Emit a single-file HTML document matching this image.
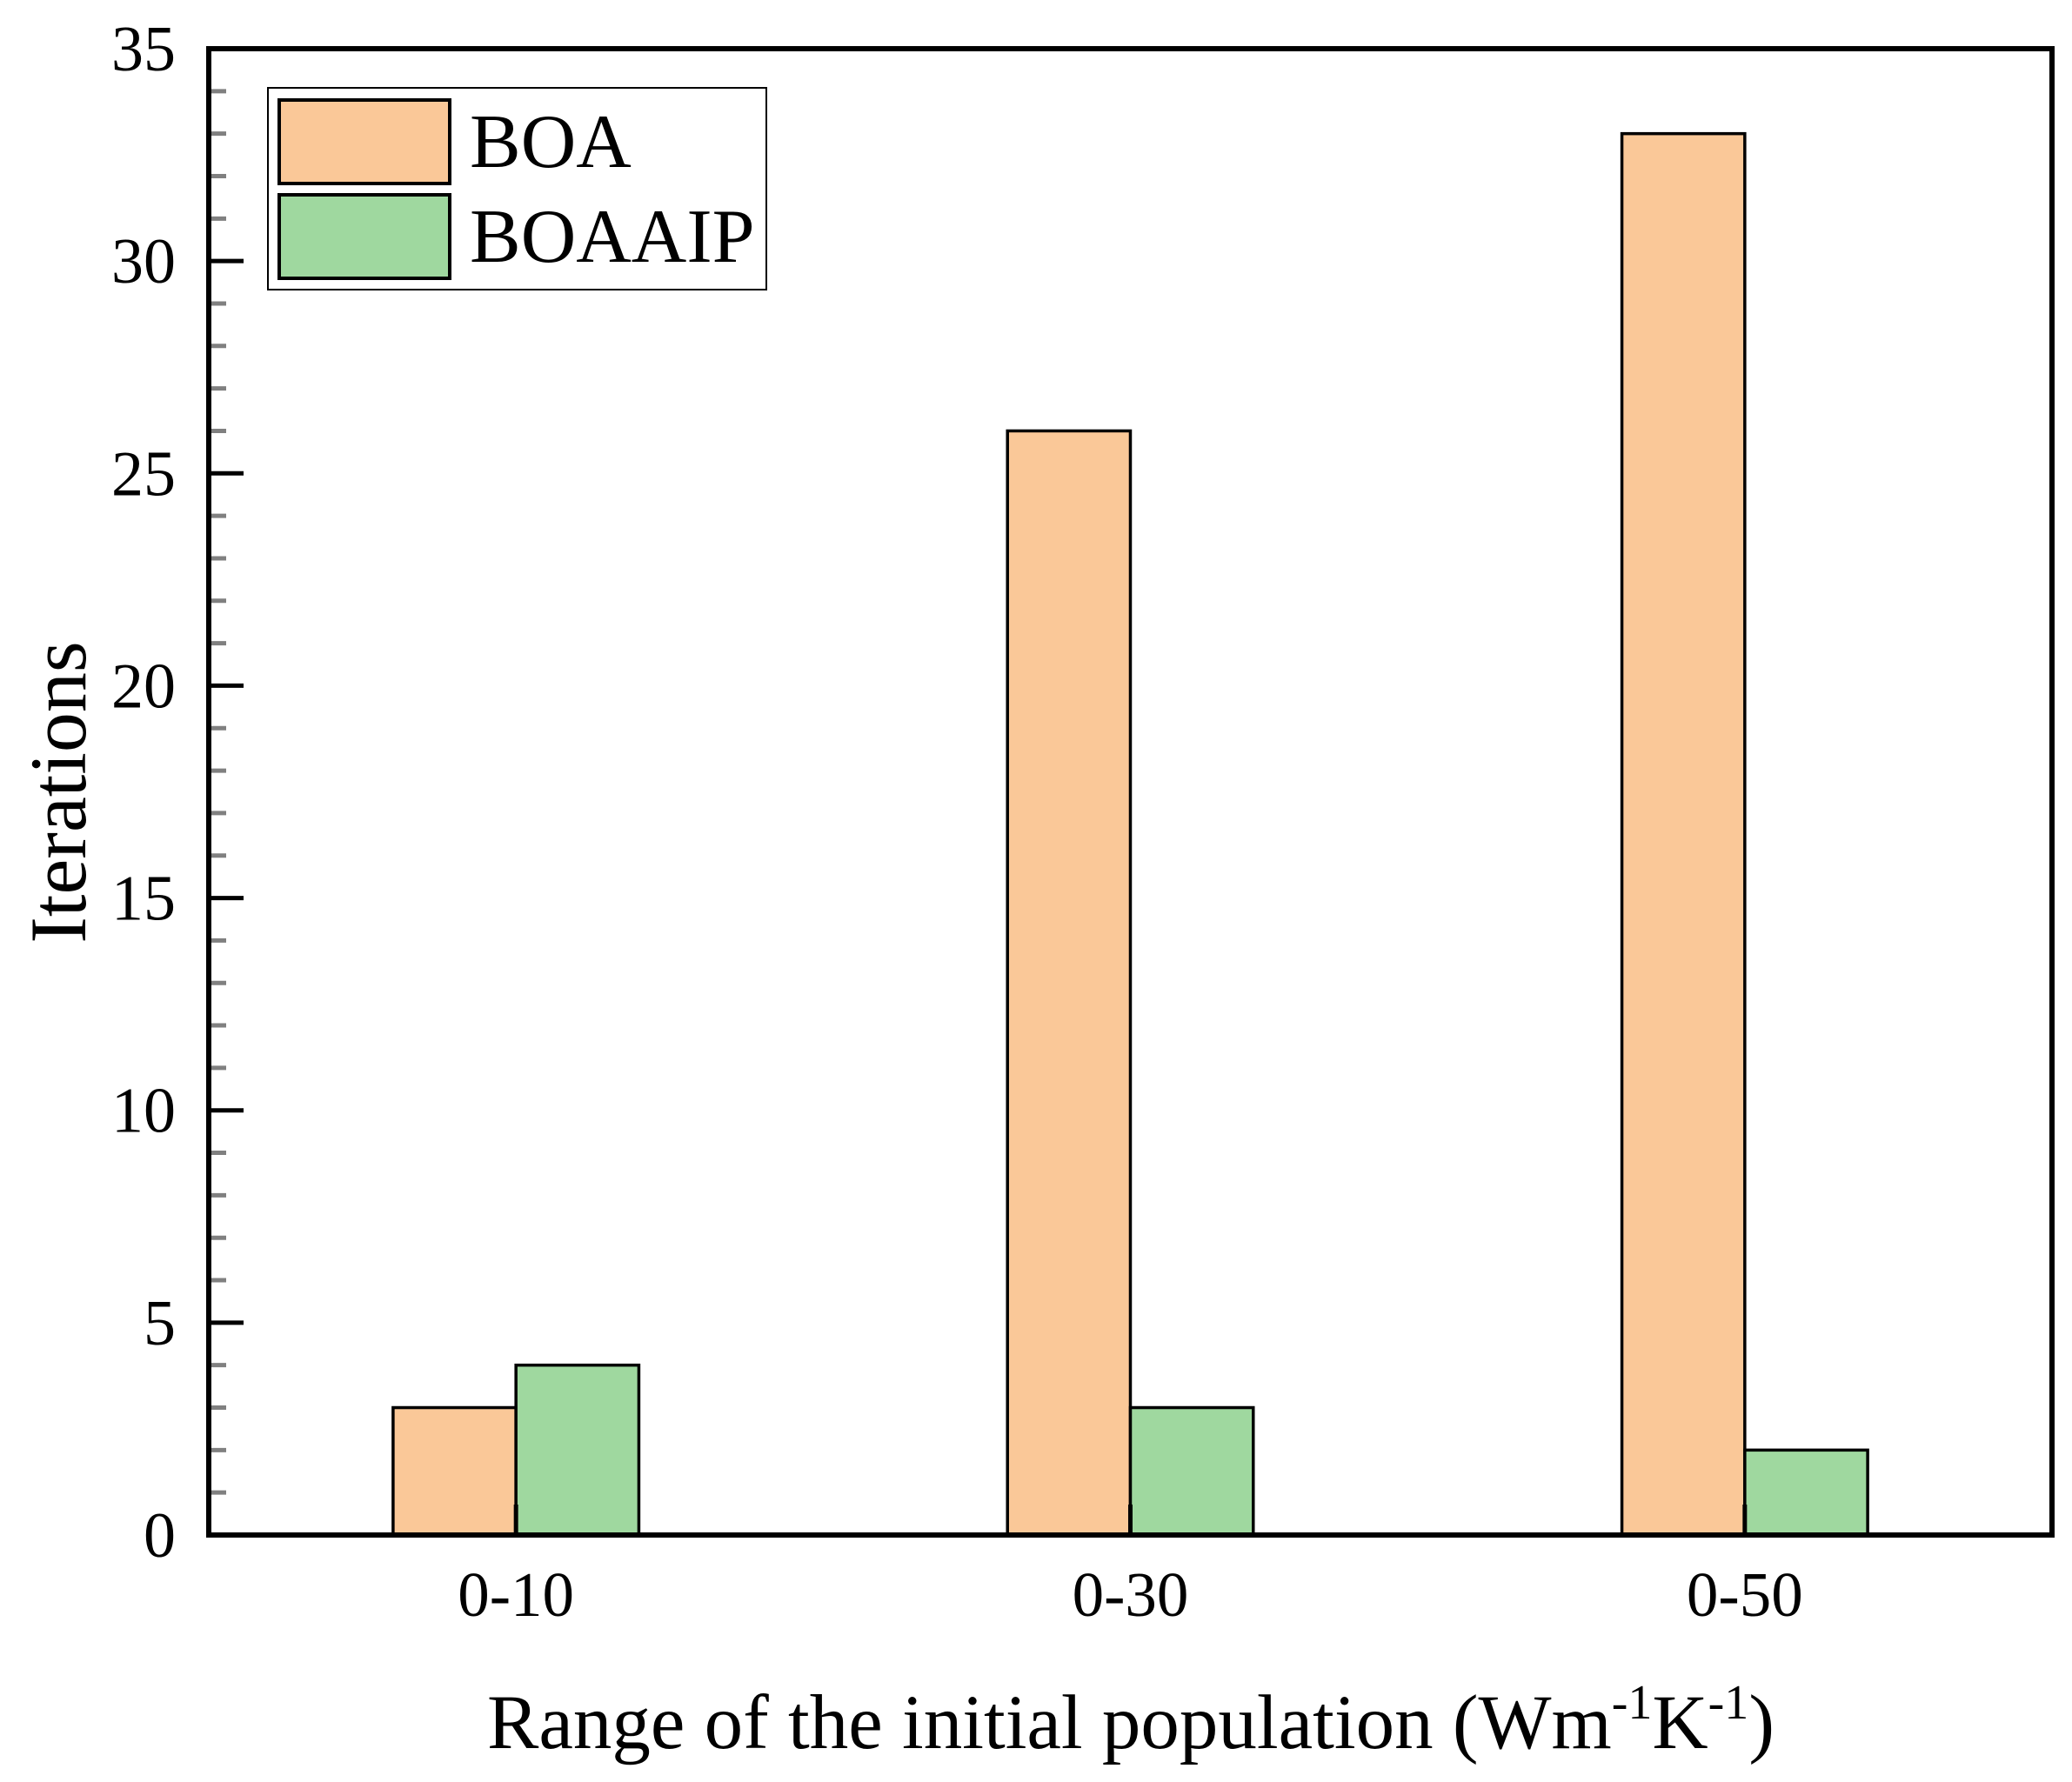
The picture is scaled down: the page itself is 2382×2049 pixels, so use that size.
<!DOCTYPE html>
<html><head><meta charset="utf-8"><style>
body{margin:0;background:#fff}
svg{display:block}
text{font-family:"Liberation Serif",serif;fill:#000}
</style></head><body>
<svg id="chart" width="2382" height="2049" viewBox="0 0 2382 2049">
<g id="minor"></g>
<g id="bars"></g>
<g id="axes"></g>
<g id="labels"></g>
<g>
<rect x="308" y="101" width="573" height="232" fill="#fff" stroke="#000" stroke-width="2"/>
<rect x="321" y="115" width="196" height="96" fill="#FAC898" stroke="#000" stroke-width="4"/>
<text x="540" y="192" font-size="88">BOA</text>
<rect x="321" y="224" width="196" height="96" fill="#9FD89F" stroke="#000" stroke-width="4"/>
<text x="540" y="301" font-size="88">BOAAIP</text>
</g>
<text x="1300" y="2010" font-size="89" text-anchor="middle">Range of the initial population (Wm<tspan dy="-34" font-size="56">-1</tspan><tspan dy="34">K</tspan><tspan dy="-34" font-size="56">-1</tspan><tspan dy="34">)</tspan></text>
<text transform="translate(98,911) rotate(-90)" font-size="92" text-anchor="middle">Iterations</text>
</svg>
<script>
const categories = ["0-10","0-30","0-50"];
const boaValues = [3,26,33];
const boaaipValues = [4,3,2];
const yTicks = [0,5,10,15,20,25,30,35];
const NS="http://www.w3.org/2000/svg";
const L=240,R=2359,T=56,B=1765,yMax=35;
function yS(v){return B-(v/yMax)*(B-T);}
function xS(i){return L+(i+0.5)/categories.length*(R-L);}
const bw=(R-L)/categories.length*0.2;
function mk(tag,attrs,parent){const e=document.createElementNS(NS,tag);for(const k in attrs)e.setAttribute(k,attrs[k]);document.getElementById(parent).appendChild(e);return e;}
for(let v=1;v<yMax;v++){ if(v%5===0)continue;
 const t=mk('line',{x1:L,x2:L+20,y1:yS(v),y2:yS(v),stroke:'#808080','stroke-width':5},'minor');
 
 
}
categories.forEach((c,i)=>{
 const cx=xS(i);
 const b1=mk('rect',{x:cx-bw,y:yS(boaValues[i]),width:bw,height:B-yS(boaValues[i]),fill:'#FAC898',stroke:'#000','stroke-width':3.5},'bars');
 
 
 const b2=mk('rect',{x:cx,y:yS(boaaipValues[i]),width:bw,height:B-yS(boaaipValues[i]),fill:'#9FD89F',stroke:'#000','stroke-width':3.5},'bars');
 
 
 const tk=mk('line',{x1:cx,x2:cx,y1:B,y2:B-35,stroke:'#000','stroke-width':5},'axes');
 
 
 const lb=mk('text',{x:cx,y:1858,'font-size':73,'text-anchor':'middle'},'labels');
 lb.textContent=c;
 
 
});
yTicks.forEach(v=>{
 const tk=mk('line',{x1:L,x2:L+40,y1:yS(v),y2:yS(v),stroke:'#000','stroke-width':5},'axes');
 
 
 const lb=mk('text',{x:202,y:yS(v)+25,'font-size':74,'text-anchor':'end'},'labels');
 lb.textContent=v;
 
 
});
const frame=mk('rect',{x:L,y:T,width:R-L,height:B-T,fill:'none',stroke:'#000','stroke-width':6},'axes');


</script>
</body></html>
